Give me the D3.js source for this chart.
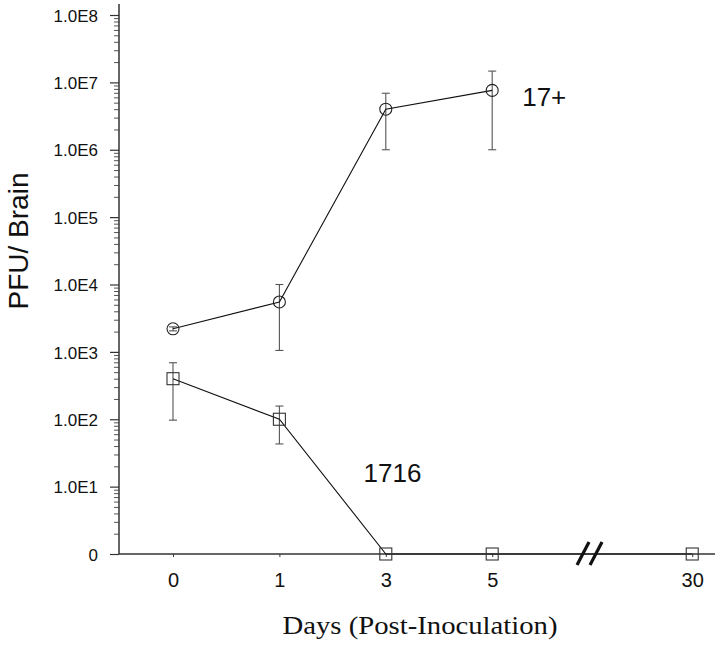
<!DOCTYPE html>
<html>
<head>
<meta charset="utf-8">
<script src="https://cdn.jsdelivr.net/npm/d3@7"></script>
<style>
  html, body { margin: 0; padding: 0; background: #fff; }
  svg { display: block; }
</style>
</head>
<body>
<svg id="chart" width="720" height="645"></svg>
<script>
// ---- data ----
const dayLabels = ["0", "1", "3", "5", "30"];
const daySlots = [0, 1, 2, 3, 4.88];      // position slot on the broken axis
const breakSlot = 3.91;                    // where the "//" axis break sits

// 17+ (circles), days 0,1,3,5
const wtMean = [2200, 5500, 4.0e6, 7.6e6];
const wtLow  = [2050, 1050, 1.0e6, 1.0e6];
const wtHigh = [2350, 1.0e4, 6.9e6, 1.47e7];

// 1716 (squares), days 0,1,3,5,30
const mutMean = [400, 100, 1, 1, 1];
const mutLow  = [97, 43, null, null, null];
const mutHigh = [690, 157, null, null, null];

const yTickValues = [1, 1e1, 1e2, 1e3, 1e4, 1e5, 1e6, 1e7, 1e8];
const yTickLabels = ["0", "1.0E1", "1.0E2", "1.0E3", "1.0E4", "1.0E5", "1.0E6", "1.0E7", "1.0E8"];

// ---- layout ----
const svg = d3.select("#chart");
const axisX0 = 119, axisXEnd = 715;
const x = d3.scaleLinear().domain([0, 3]).range([173, 492.2]);
const y = d3.scaleLog().domain([1, 1e8]).range([554, 15]);

const sans = "'Liberation Sans', Arial, Helvetica, sans-serif";
const serif = "'Liberation Serif', 'Times New Roman', Times, serif";
const axisColor = "#333";

// ---- Y axis ----
const minorVals = [];
for (let d = 0; d < 8; d++) for (let k = 2; k <= 9; k++) minorVals.push(k * Math.pow(10, d));

const gyMinor = svg.append("g").attr("transform", `translate(${axisX0},0)`)
  .call(d3.axisLeft(y).tickValues(minorVals).tickSize(5).tickFormat(""));
gyMinor.select(".domain").remove();
gyMinor.selectAll("line").attr("stroke", "#555").attr("stroke-width", 1);

const gy = svg.append("g").attr("transform", `translate(${axisX0},0)`)
  .call(d3.axisLeft(y).tickValues(yTickValues).tickSize(9).tickPadding(12)
    .tickFormat((d, i) => yTickLabels[i]));
gy.select(".domain").remove();
gy.selectAll("line").attr("stroke", axisColor).attr("stroke-width", 1.2);
gy.selectAll("text").attr("font-family", sans).attr("font-size", 17).attr("fill", "#111")
  .attr("dy", "0.36em");

svg.append("line")
  .attr("x1", axisX0).attr("x2", axisX0)
  .attr("y1", y(1)).attr("y2", y(1e8) - 11)
  .attr("stroke", axisColor).attr("stroke-width", 1.5);

// ---- X axis ----
const gx = svg.append("g").attr("transform", `translate(0,${y(1)})`)
  .call(d3.axisBottom(x).tickValues(daySlots).tickSize(3)
    .tickFormat((d, i) => dayLabels[i]));
gx.select(".domain").remove();
gx.selectAll("line").attr("stroke", axisColor).attr("stroke-width", 1);
gx.selectAll("text").attr("font-family", sans).attr("font-size", 20).attr("fill", "#111")
  .attr("y", 33).attr("dy", 0);

svg.append("line")
  .attr("x1", axisX0).attr("x2", axisXEnd)
  .attr("y1", y(1)).attr("y2", y(1))
  .attr("stroke", axisColor).attr("stroke-width", 1.5);

// axis break "//"
const bx = x(breakSlot), by = y(1);
[-6, 7].forEach(off => {
  svg.append("line")
    .attr("x1", bx + off - 6).attr("y1", by + 11)
    .attr("x2", bx + off + 6).attr("y2", by - 12)
    .attr("stroke", "#111").attr("stroke-width", 3.2);
});

// ---- titles ----
svg.append("text")
  .attr("transform", `translate(28,241) rotate(-90)`)
  .attr("text-anchor", "middle")
  .attr("font-family", sans).attr("font-size", 28).attr("fill", "#111")
  .text("PFU/ Brain");

svg.append("text")
  .attr("x", 420).attr("y", 634)
  .attr("text-anchor", "middle")
  .attr("font-family", serif).attr("font-size", 25).attr("fill", "#111")
  .attr("textLength", 275).attr("lengthAdjust", "spacingAndGlyphs")
  .text("Days (Post-Inoculation)");

// ---- series ----
const line = d3.line().x(d => x(d.slot)).y(d => y(d.v));

const wt = wtMean.map((v, i) => ({ slot: daySlots[i], v, lo: wtLow[i], hi: wtHigh[i] }));
const mut = mutMean.map((v, i) => ({ slot: daySlots[i], v, lo: mutLow[i], hi: mutHigh[i] }));

function errorBars(data) {
  const g = svg.append("g").attr("stroke", "#555").attr("stroke-width", 1.1);
  data.filter(d => d.lo != null).forEach(d => {
    const cx = x(d.slot);
    g.append("line").attr("x1", cx).attr("x2", cx).attr("y1", y(d.lo)).attr("y2", y(d.hi));
    g.append("line").attr("x1", cx - 4).attr("x2", cx + 4).attr("y1", y(d.lo)).attr("y2", y(d.lo));
    g.append("line").attr("x1", cx - 4).attr("x2", cx + 4).attr("y1", y(d.hi)).attr("y2", y(d.hi));
  });
}

errorBars(wt);
errorBars(mut);

svg.append("path").datum(wt).attr("d", line)
  .attr("fill", "none").attr("stroke", "#111").attr("stroke-width", 1.1);
svg.append("path").datum(mut).attr("d", line)
  .attr("fill", "none").attr("stroke", "#111").attr("stroke-width", 1.1);

svg.append("g").selectAll("circle").data(wt).join("circle")
  .attr("cx", d => x(d.slot)).attr("cy", d => y(d.v)).attr("r", 6)
  .attr("fill", "none").attr("stroke", "#222").attr("stroke-width", 1.1);

svg.append("g").selectAll("rect").data(mut).join("rect")
  .attr("x", d => x(d.slot) - 6).attr("y", d => y(d.v) - 6)
  .attr("width", 12).attr("height", 12)
  .attr("fill", "none").attr("stroke", "#333").attr("stroke-width", 1.1);

// ---- series labels ----
const wtLast = wt[wt.length - 1];
svg.append("text")
  .attr("x", x(wtLast.slot) + 30).attr("y", y(wtLast.v) + 16)
  .attr("font-family", sans).attr("font-size", 26).attr("fill", "#111")
  .text("17+");

svg.append("text")
  .attr("x", (x(daySlots[1]) + x(daySlots[2])) / 2 + 31).attr("y", y(1e1) - 5)
  .attr("font-family", sans).attr("font-size", 26).attr("fill", "#111")
  .text("1716");
</script>
</body>
</html>
